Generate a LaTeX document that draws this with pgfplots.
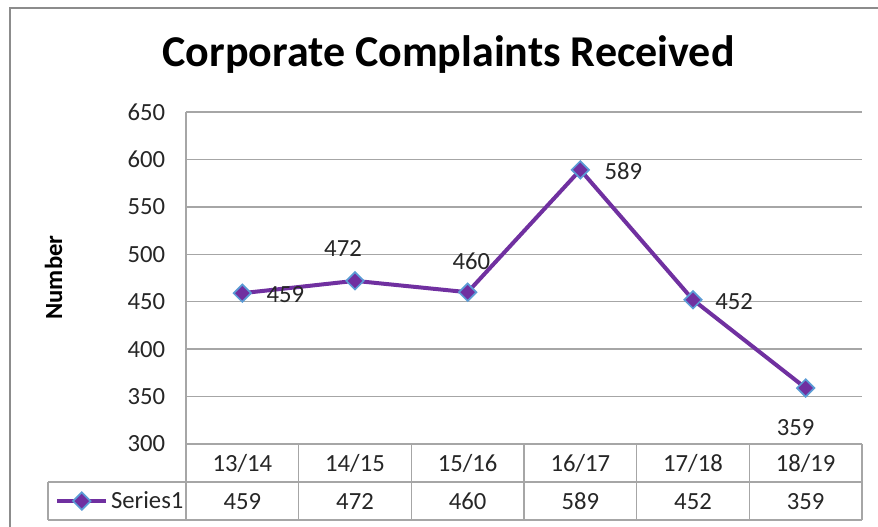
\documentclass[border=0pt]{standalone}
\usepackage{pgfplots}
\pgfplotsset{compat=1.18}
\usepackage{fontspec}
\setmainfont{Carlito}
\definecolor{serpurple}{HTML}{7030A0}
\definecolor{serblue}{HTML}{5B9BD5}
\definecolor{gridgray}{HTML}{A6A6A6}
\definecolor{txt}{HTML}{262626}
\pgfplotstableread{
x y lx ly
0 459 32.2 -1.1
1 472 -9 24.4
2 460 2.7 23.3
3 589 32.2 -1
4 452 30.8 -1.5
5 359 -7.5 -29.5
}\datatab
\begin{document}
\begin{tikzpicture}
\useasboundingbox (0,0) rectangle (658.5pt,395.25pt);
\draw[black!45, line width=1.4pt] (7.5pt,0) -- (7.5pt,389.25pt) -- (658.5pt,389.25pt);
\node[anchor=base, font=\bfseries\fontsize{33pt}{40pt}\selectfont, text=black] at (336.4pt,345pt) {Corporate Complaints Received};
\node[rotate=90, anchor=base, font=\bfseries\fontsize{18.5pt}{22pt}\selectfont, text=black] at (46.5pt,187.1pt) {Number};
\begin{axis}[
  at={(139.5pt,62.25pt)}, anchor=south west,
  scale only axis, width=507pt, height=249pt,
  xmin=-0.5, xmax=5.5, ymin=300, ymax=650,
  ytick={300,350,...,650},
  xtick={0,1,2,3,4,5},
  xticklabels={13/14,14/15,15/16,16/17,17/18,18/19},
  extra x ticks={0,1,2,3,4,5},
  extra x tick labels={459,472,460,589,452,359},
  extra x tick style={grid=none, xticklabel style={yshift=-28.5pt}},
  axis line style={draw=none},
  major tick length=0pt,
  ymajorgrids, xmajorgrids=false,
  grid style={gridgray, line width=1pt},
  clip=false,
  tick label style={font=\fontsize{18.5pt}{22pt}\selectfont, text=txt},
  xticklabel style={anchor=base, yshift=-20.3pt},
  yticklabel style={anchor=east, inner sep=0pt, xshift=-15.5pt},
  /pgf/number format/assume math mode=true,
  legend style={at={(axis description cs:-0.194,-0.172)}, anchor=west, draw=none, fill=none, inner sep=0pt, font=\fontsize{18.5pt}{22pt}\selectfont, text=txt},
  legend image code/.code={\draw[mark repeat=2, mark phase=2, #1] plot coordinates {(0cm,0cm) (0.65cm,0cm) (1.3cm,0cm)};},
]
\addplot[serpurple, line width=3pt, mark=square*, mark size=4.6pt,
  mark options={rotate=45, fill=serpurple, draw=serblue, line width=1.3pt},
  nodes near coords,
  point meta=explicit,
  visualization depends on={\thisrow{lx} \as \lx},
  visualization depends on={\thisrow{ly} \as \ly},
  nodes near coords style={anchor=center, xshift=\lx pt, yshift=\ly pt, font=\fontsize{18.5pt}{22pt}\selectfont, text=txt},
] table[x=x, y=y, meta=y] {\datatab};
\addlegendentry{Series1}
\end{axis}
% data table grid
\begin{scope}[gridgray, line width=1pt]
\draw (139.5pt,62.25pt) -- (646.5pt,62.25pt);
\draw (36pt,33.75pt) -- (646.5pt,33.75pt);
\draw (36pt,5.25pt) -- (646.5pt,5.25pt);
\draw (36pt,5.25pt) -- (36pt,33.75pt);
\draw (139.5pt,5.25pt) -- (139.5pt,311.25pt);
\foreach \k in {1,...,6} {
  \draw ({139.5pt+84.5pt*\k},5.25pt) -- ({139.5pt+84.5pt*\k},62.25pt);
}
\end{scope}
\end{tikzpicture}
\end{document}
